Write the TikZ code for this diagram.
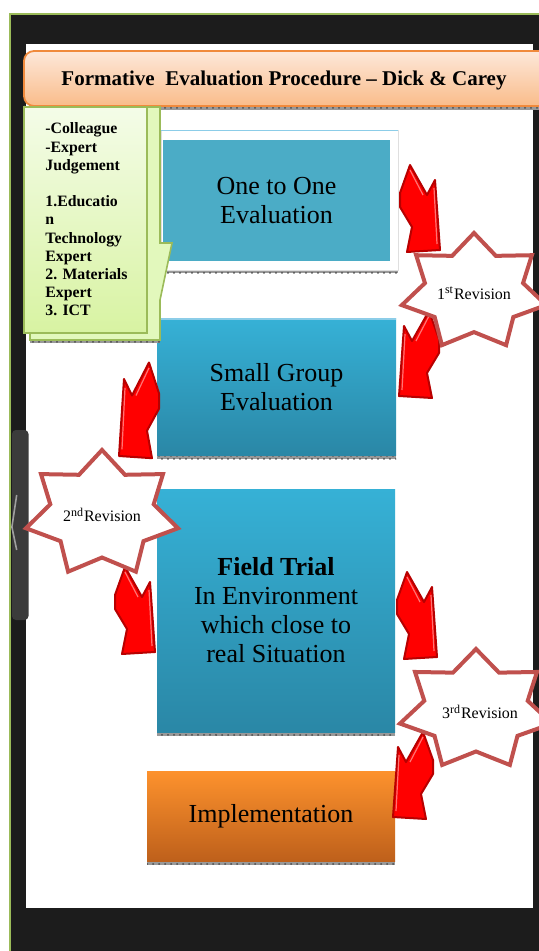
\documentclass[tikz,border=0pt]{standalone}
\usepackage{fontspec}
\setmainfont{Liberation Serif}
\usetikzlibrary{patterns}

\definecolor{framedark}{HTML}{1C1C1C}
\definecolor{framegreen}{HTML}{9BBB59}
\definecolor{tabgray}{HTML}{3B3B3B}
\definecolor{titleedge}{HTML}{F08A3C}
\definecolor{titletop}{HTML}{FDE8DA}
\definecolor{titlebot}{HTML}{F9BC8A}
\definecolor{noteedge}{HTML}{9BBB59}
\definecolor{notetop}{HTML}{F4FCE8}
\definecolor{notebot}{HTML}{D8F3A2}
\definecolor{noteside}{HTML}{E2F8BC}
\definecolor{oneblue}{HTML}{4BACC6}
\definecolor{boxtop}{HTML}{36B1D6}
\definecolor{boxbot}{HTML}{2A87A6}
\definecolor{boxrim}{HTML}{8CCDE8}
\definecolor{impltop}{HTML}{FD922D}
\definecolor{implbot}{HTML}{BE601B}
\definecolor{starred}{HTML}{C0504D}
\definecolor{arrowred}{HTML}{FF0000}

\tikzset{
  evalbox/.style={inner sep=0pt, align=center, font=\fontsize{13}{14.5}\selectfont},
  hatch/.style={fill=black!40, postaction={pattern=crosshatch dots, pattern color=black!70}},
  starline/.style={draw=starred, line width=2pt, fill=white, line join=miter},
  revlabel/.style={inner sep=0pt, font=\fontsize{8}{9}\selectfont},
  notetext/.style={inner sep=0pt, align=left, font=\fontsize{7.9}{9.1}\selectfont\bfseries},
  bendarrow/.style={fill=arrowred, draw=arrowred!72!black, line width=1pt, line join=round}
}
% bent red arrow, tip at #2
\def\bentarrow[#1](#2){\draw[bendarrow,shift={(#2)},#1] (-30,-85) -- (-13,-55) -- (-5,-70) -- (0,0) -- (-33,2) -- (-28,-23) -- (-40,-43) -- (-40,-57) -- cycle;
  \draw[arrowred!55!white, line width=0.6pt, shift={(#2)},#1] (-30,-80) -- (-17,-55) (-6,-62) -- (-3,-6);}
% seven point star, centre #1, radii #2 and #3
\def\revstar(#1)(#2,#3){\draw[starline,shift={(#1)}] (0,-#3) \foreach \k in {1,...,7} { -- ({0.68*#2*cos(90+(\k-0.5)*360/7)},{-0.68*#3*sin(90+(\k-0.5)*360/7)}) -- ({#2*cos(90+\k*360/7)},{-#3*sin(90+\k*360/7)}) } -- cycle;}

\begin{document}
\begin{tikzpicture}[x=0.5pt,y=-0.5pt]
		\useasboundingbox (0,0) rectangle (538,951);
		%%%%% frame %%%%%
		\fill[framedark] (10,14) rectangle (545,960);
		\draw[framegreen, line width=0.8pt] (10,960) -- (10,14) -- (545,14);
		\fill[white] (26,44.5) rectangle (533,908);
		\fill[tabgray, rounded corners=2pt] (12,430) rectangle (28.5,620);
		\draw[gray!75, line width=0.8pt] (16.7,495) -- (11.9,527) -- (16.7,550);
		
		%%%%% title %%%%%
		\fill[hatch] (24,106) rectangle (545,110);
		\draw[titleedge, line width=0.9pt, top color=titletop, bottom color=titlebot, rounded corners=5pt] (24,51) rectangle (552,106);
		\node[inner sep=0pt, font=\fontsize{10.5}{12}\selectfont\bfseries] (title) at (284,80) {Formative\ \ Evaluation Procedure -- Dick \& Carey};
		
		%%%%% boxes %%%%%
		\fill[hatch] (167,270) rectangle (398,273.5);
		\draw[gray!25, fill=white] (161,130) rectangle (398,270);
		\draw[boxrim, line width=0.6pt] (161,130.5) -- (398,130.5);
		\node[evalbox, fill=oneblue, minimum width=113.5pt, minimum height=60.5pt] (onetoone) at (276.5,200.5) {One to One\\Evaluation};
		
		\fill[hatch] (157,455) rectangle (396,459);
		\node[evalbox, top color=boxtop, bottom color=boxbot, minimum width=119.5pt, minimum height=68pt] (smallgroup) at (276.5,387) {Small Group\\Evaluation};
		\draw[boxrim, line width=1pt] (smallgroup.north west) -- (smallgroup.north east);
		
		\fill[hatch] (157,732) rectangle (395,736);
		\node[evalbox, top color=boxtop, bottom color=boxbot, minimum width=119pt, minimum height=121.5pt] (fieldtrial) at (276,610.5) {\textbf{Field Trial}\\In Environment\\which close to\\real Situation};
		
		\fill[hatch] (147,861) rectangle (395,865);
		\node[evalbox, top color=impltop, bottom color=implbot, minimum width=124pt, minimum height=45pt] (implement) at (271,816) {Implementation};
		
		%%%%% reviewers note %%%%%
		\fill[hatch] (30,340) rectangle (160,343.5);
		\draw[noteedge, line width=0.8pt, fill=noteside, line join=miter] (147,107) -- (160,107) -- (160,243) -- (172,243) -- (160,300) -- (160,340) -- (30,340) -- (30,333) -- (147,333) -- cycle;
		\draw[noteedge, line width=0.8pt, top color=notetop, bottom color=notebot] (24,107) rectangle (147,333);
		\node[notetext, anchor=north west] (reviewers) at (45,122.5) {-Colleague\\-Expert\\Judgement\\[9.1pt]1.Educatio\\n\\Technology\\Expert\\2. Materials\\Expert\\3. ICT};
		
		%%%%% arrows %%%%%
		\bentarrow[](440,250)
		\bentarrow[xscale=-1](399,396)
		\bentarrow[xscale=-1,yscale=1.1](119,456)
		\bentarrow[](155,652)
		\bentarrow[](437,657)
		\bentarrow[xscale=-1](393,817)
		
		%%%%% revisions %%%%%
		\revstar(474,292)(74,59)
		\node[revlabel] (rev1) at (474,293) {1\textsuperscript{st}Revision};
		\revstar(102,514)(78,64)
		\node[revlabel] (rev2) at (102,515) {2\textsuperscript{nd}Revision};
		\revstar(476,710)(78,61)
		\node[revlabel] (rev3) at (480,712) {3\textsuperscript{rd}Revision};
	\end{tikzpicture}
\end{document}
